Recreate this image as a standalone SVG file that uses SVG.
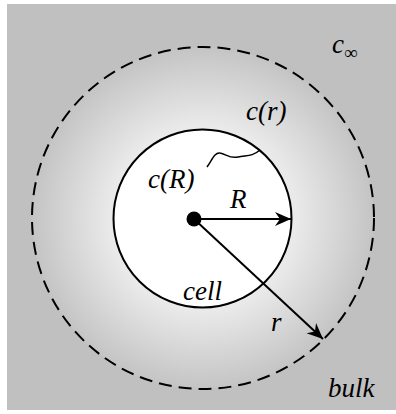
<svg xmlns="http://www.w3.org/2000/svg" width="396" height="414" viewBox="0 0 396 414">
<style>
  .lbl { font-family: 'Liberation Serif', 'DejaVu Serif', serif; font-style: italic; font-size: 27px; fill: #000; }
  .sub { font-family: 'Liberation Serif', 'DejaVu Serif', serif; font-size: 19px; fill: #000; }
  .edge { stroke: #000; stroke-width: 2; fill: none; }
</style>
<defs>
  <radialGradient id="glow" gradientUnits="userSpaceOnUse" cx="203" cy="218" r="171">
    <stop offset="0" stop-color="#ffffff"/>
    <stop offset="0.55" stop-color="#e9e9e9"/>
    <stop offset="1" stop-color="#c4c4c4"/>
  </radialGradient>
  <marker id="arr" markerUnits="userSpaceOnUse" markerWidth="20" markerHeight="16" viewBox="-17 -8 20 16" refX="0" refY="0" orient="auto">
    <path d="M0,0 L-16,-7 L-11,0 L-16,7 Z" fill="#000"/>
  </marker>
</defs>
<rect x="0" y="0" width="396" height="414" fill="#ffffff"/>
<g id="bulk">
  <rect x="7" y="4" width="389" height="406" fill="#c0c0c0"/>
  <text class="lbl" x="328" y="397">bulk</text>
</g>
<g id="c-inf">
  <text class="lbl" x="332" y="53">c</text>
  <text class="sub" x="344" y="59">∞</text>
</g>
<g id="diffusion-zone">
  <circle cx="203" cy="218" r="171" fill="url(#glow)" stroke="#000" stroke-width="2" stroke-dasharray="13 7"/>
  <text class="lbl" x="246" y="120">c(r)</text>
</g>
<g id="cell">
  <circle cx="202.5" cy="218.5" r="89" fill="#ffffff" stroke="#000" stroke-width="2"/>
  <text class="lbl" x="148" y="188">c(R)</text>
  <text class="lbl" x="183" y="300">cell</text>
  <circle cx="194" cy="219" r="7.5" fill="#000"/>
</g>
<g id="radius-labels">
  <text class="lbl" x="230" y="208">R</text>
  <text class="lbl" x="271" y="331">r</text>
</g>
<g id="connectors">
  <path class="edge" d="M194,219 L291,219" marker-end="url(#arr)"/>
  <path class="edge" d="M194,219 L323,339" marker-end="url(#arr)"/>
  <path d="M207,167 C212,160 215,152 220,153 C226,154 230,159 238,157 C246,155 252,157 260,150" stroke="#000" stroke-width="1.5" fill="none"/>
</g>
</svg>
